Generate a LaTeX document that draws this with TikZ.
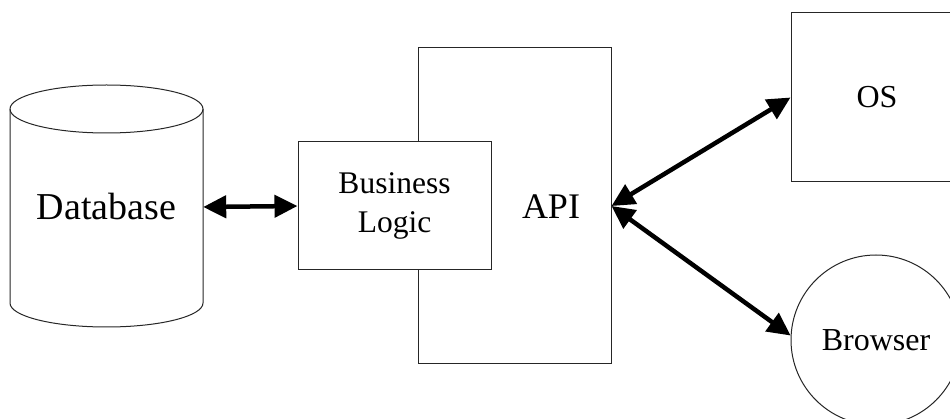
\documentclass[tikz,border=0pt]{standalone}
\usepackage{fontspec}
\setmainfont{Liberation Serif}
\usetikzlibrary{arrows.meta}
\begin{document}
\begin{tikzpicture}[x=1pt, y=-1pt,
  outline/.style={draw=black!85, line width=1pt},
  box/.style={outline, fill=white, rectangle, inner sep=0pt},
  link/.style={line width=4.5pt, {Triangle[length=23pt,width=22pt]}-{Triangle[length=23pt,width=22pt]}},
  bigtext/.style={font=\fontsize{38}{44}\selectfont},
  midtext/.style={font=\fontsize{32}{39}\selectfont}]
  \useasboundingbox (0,0) rectangle (950,419);
  \clip (0,0) rectangle (950,419);

  % Database cylinder
  \draw[outline] (10,109) arc[x radius=96.5, y radius=24, start angle=180, end angle=-180];
  \draw[outline] (10,109) -- (10,303) arc[x radius=96.5, y radius=24, start angle=180, end angle=0] -- (203,109);
  \node[bigtext, minimum width=193pt, inner sep=0pt] (db) at (106.5,207) {Database};

  % API block with the business logic box in front of it
  \node[box, minimum width=193pt, minimum height=316pt] (api) at (514.5,206) {};
  \node[font=\fontsize{36}{40}\selectfont] (apilbl) at (551,207) {API};
  \node[box, align=center, font=\fontsize{31.5}{39}\selectfont, minimum width=193pt, minimum height=128pt] (bl) at (394.5,206) {Business\\Logic};

  % Clients
  \node[box, midtext, minimum width=172pt, minimum height=169pt] (os) at (877,97.5) {OS};
  \node[outline, circle, fill=white, midtext, minimum size=170pt, inner sep=0pt] (br) at (876,340) {Browser};

  % Connectors
  \draw[link] (db.east) -- (bl.west);
  \draw[link] (api.east) -- (os.west);
  \draw[link] (api.east) -- (br.177);
\end{tikzpicture}
\end{document}
